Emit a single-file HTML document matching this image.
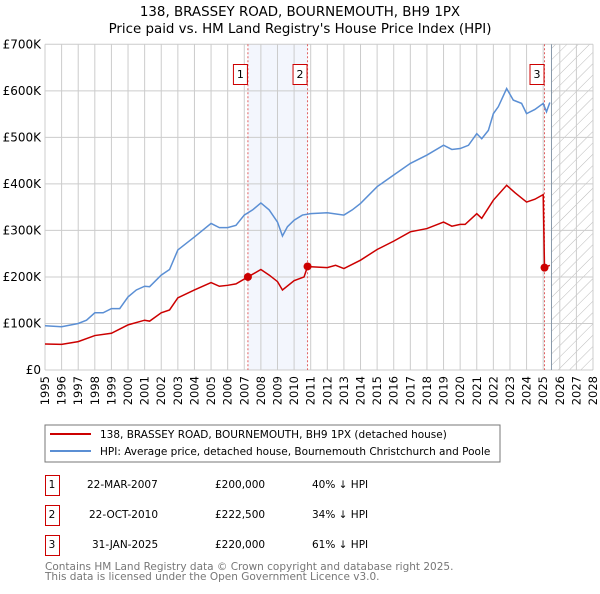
<!DOCTYPE html>
<html><head><meta charset="utf-8"><style>
body{margin:0;background:#fff;font-family:"DejaVu Sans","Liberation Sans",sans-serif;}
svg text{font-family:"DejaVu Sans","Liberation Sans",sans-serif;}
</style></head><body>
<svg id="c" width="600" height="590" xmlns="http://www.w3.org/2000/svg">
<defs><pattern id="hatch" width="8" height="8" patternUnits="userSpaceOnUse" patternTransform="rotate(45)"><line x1="0" y1="0" x2="0" y2="8" stroke="#bbb" stroke-width="1"/></pattern></defs>
<text x="300" y="16" text-anchor="middle" font-size="13.4">138, BRASSEY ROAD, BOURNEMOUTH, BH9 1PX</text>
<text x="300" y="33" text-anchor="middle" font-size="13.4">Price paid vs. HM Land Registry's House Price Index (HPI)</text>
<g id="plot"></g>
<rect x="45" y="425" width="455" height="37" fill="#fff" stroke="#777"/>
<line x1="50" y1="434" x2="91" y2="434" stroke="#cc0000" stroke-width="2"/>
<text x="100" y="438" font-size="10.5">138, BRASSEY ROAD, BOURNEMOUTH, BH9 1PX (detached house)</text>
<line x1="50" y1="451" x2="91" y2="451" stroke="#5b8fd4" stroke-width="2"/>
<text x="100" y="455" font-size="10.5">HPI: Average price, detached house, Bournemouth Christchurch and Poole</text>
<g font-size="10.5">
<rect x="45.5" y="475.5" width="14" height="20" fill="none" stroke="#cc0000"/><text x="52" y="488" text-anchor="middle">1</text>
<text x="87" y="488">22-MAR-2007</text><text x="215" y="488">£200,000</text><text x="312" y="488">40% ↓ HPI</text>
<rect x="45.5" y="505.5" width="14" height="20" fill="none" stroke="#cc0000"/><text x="52" y="518" text-anchor="middle">2</text>
<text x="89" y="518">22-OCT-2010</text><text x="215" y="518">£222,500</text><text x="312" y="518">34% ↓ HPI</text>
<rect x="45.5" y="535.5" width="14" height="20" fill="none" stroke="#cc0000"/><text x="52" y="548" text-anchor="middle">3</text>
<text x="92" y="548">31-JAN-2025</text><text x="215" y="548">£220,000</text><text x="312" y="548">61% ↓ HPI</text>
</g>
<text x="45" y="570" font-size="10.5" fill="#777">Contains HM Land Registry data © Crown copyright and database right 2025.</text>
<text x="45" y="580" font-size="10.5" fill="#777">This data is licensed under the Open Government Licence v3.0.</text>
</svg>
<script>
const yTicks=[0,100,200,300,400,500,600,700];
const yTickLabels=["£0","£100K","£200K","£300K","£400K","£500K","£600K","£700K"];
const xYears=[1995,1996,1997,1998,1999,2000,2001,2002,2003,2004,2005,2006,2007,2008,2009,2010,2011,2012,2013,2014,2015,2016,2017,2018,2019,2020,2021,2022,2023,2024,2025,2026,2027,2028];
const hpiT=[1995,1996,1997,1997.5,1998,1998.5,1999,1999.5,2000,2000.5,2001,2001.3,2002,2002.5,2003,2004,2005,2005.5,2006,2006.5,2007,2007.5,2008,2008.5,2009,2009.3,2009.6,2010,2010.5,2011,2012,2013,2013.5,2014,2015,2016,2017,2018,2019,2019.5,2020,2020.5,2021,2021.3,2021.7,2022,2022.3,2022.8,2023.2,2023.7,2024,2024.5,2025,2025.2,2025.4];
const hpiV=[95,93,100,107,123,123,132,132,157,172,180,179,204,216,258,286,315,306,306,311,333,344,359,344,318,288,308,322,333,336,338,333,344,358,394,419,444,462,483,474,476,483,508,497,515,551,566,605,580,573,551,560,573,555,575];
const ppT=[1995,1996,1997,1998,1999,2000,2001,2001.3,2002,2002.5,2003,2004,2005,2005.5,2006,2006.5,2007.22,2008,2008.5,2009,2009.3,2010,2010.6,2010.81,2011,2012,2012.5,2013,2014,2015,2016,2017,2018,2019,2019.5,2020,2020.3,2021,2021.3,2022,2022.8,2023.3,2024,2024.5,2025.0,2025.08,2025.4];
const ppV=[56,55,61,74,79,97,107,105,123,129,155,172,188,180,182,185,200,216,204,190,172,192,200,222.5,222,220,225,218,236,259,277,297,304,318,309,313,313,336,326,365,397,381,361,367,377,220,225];
const saleT=[2007.22,2010.81,2025.08];
const saleV=[200,222.5,220];
const saleLabels=["1","2","3"];
const X0=45,X1=593,Y0=370,Y1=44.3;
const xs=t=>X0+(t-1995)/(2028-1995)*(X1-X0);
const ys=v=>Y0-v/700*(Y0-Y1);
const NS="http://www.w3.org/2000/svg";
const g=document.getElementById('plot');
function mk(tag,attrs){const e=document.createElementNS(NS,tag);for(const k in attrs)e.setAttribute(k,attrs[k]);g.appendChild(e);return e;}
let e;
e=mk('rect',{x:xs(saleT[0]),y:Y1,width:xs(saleT[1])-xs(saleT[0]),height:Y0-Y1,fill:'#eef2fc',opacity:0.7});


e=mk('rect',{x:xs(2025.5),y:Y1,width:X1-xs(2025.5),height:Y0-Y1,fill:'url(#hatch)'});


xYears.forEach(yr=>{e=mk('line',{x1:xs(yr),x2:xs(yr),y1:Y1,y2:Y0,stroke:'#ccc'});


e=mk('text',{x:0,y:0,'font-size':11.5,'text-anchor':'end',transform:`translate(${xs(yr)+4},${Y0+6}) rotate(-90)`});e.textContent=yr;

});
yTicks.forEach((v,i)=>{e=mk('line',{x1:X0,x2:X1,y1:ys(v),y2:ys(v),stroke:'#ccc'});


e=mk('text',{x:X0-4,y:ys(v)+4,'font-size':12,'text-anchor':'end'});e.textContent=yTickLabels[i];

});
e=mk('line',{x1:xs(2025.5),x2:xs(2025.5),y1:Y1,y2:Y0,stroke:'#8899aa','stroke-width':1});


saleT.forEach((t,i)=>{e=mk('line',{x1:xs(t),x2:xs(t),y1:Y1,y2:Y0,stroke:'#e06060','stroke-dasharray':'2,2'});


e=mk('rect',{x:xs(t)-14.5,y:64.5,width:14,height:20,fill:'#fff',stroke:'#cc0000'});


e=mk('text',{x:xs(t)-7.5,y:78,'font-size':11,'text-anchor':'middle'});e.textContent=saleLabels[i];

});
e=mk('polyline',{points:hpiT.map((t,i)=>xs(t)+','+ys(hpiV[i])).join(' '),fill:'none',stroke:'#5b8fd4','stroke-width':1.5});


e=mk('polyline',{points:ppT.map((t,i)=>xs(t)+','+ys(ppV[i])).join(' '),fill:'none',stroke:'#cc0000','stroke-width':1.5});


saleT.forEach((t,i)=>{e=mk('circle',{cx:xs(t),cy:ys(saleV[i]),r:4,fill:'#cc0000'});

});
</script>
</body></html>
